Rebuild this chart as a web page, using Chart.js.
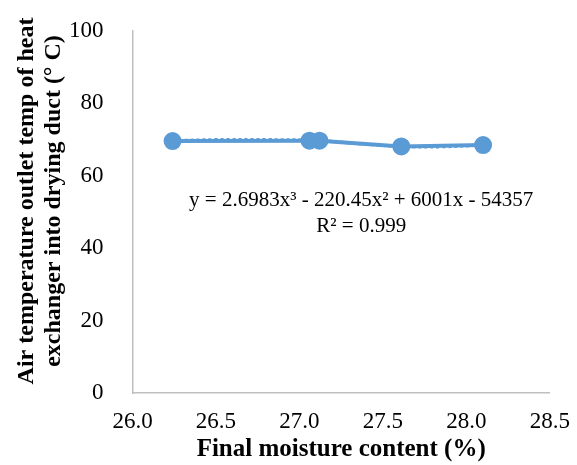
<!DOCTYPE html>
<html>
<head>
<meta charset="utf-8">
<script src="https://cdn.jsdelivr.net/npm/chart.js@4.4.1/dist/chart.umd.min.js"></script>
<style>
  html, body { margin: 0; padding: 0; background: #fff; }
  #wrap { width: 577px; height: 465px; }
</style>
</head>
<body>
<div id="wrap"><canvas id="chart"></canvas></div>
<script>
// measured points (final moisture %, outlet temp °C)
const moisture = [26.24, 27.06, 27.12, 27.61, 28.10];
const outletTemp = [69.6, 69.7, 69.7, 68.1, 68.5];

// dotted trendline
const trendX = [26.24, 26.5, 26.8, 27.06, 27.12, 27.4, 27.61, 27.85, 28.10];
const trendY = [69.7, 70.0, 70.0, 69.9, 69.8, 68.7, 68.1, 68.0, 68.5];

const xTicks = [26.0, 26.5, 27.0, 27.5, 28.0, 28.5];
const yTicks = [0, 20, 40, 60, 80, 100];

const yTitle = ['Air temperature outlet temp of heat', 'exchanger into drying duct (\u00B0 C)'];
const equation = ['y = 2.6983x\u00B3 - 220.45x\u00B2 + 6001x - 54357', 'R\u00B2 = 0.999'];

const blue = '#5B9BD5';
const serif = "'Liberation Serif', 'Times New Roman', serif";

// equation text + the two-line y title (drawn by hand to sit like the original)
const extraText = {
    id: 'extraText',
    afterDatasetsDraw(chart) {
        const { ctx, scales } = chart;
        const x = scales.x.getPixelForValue(27.37);
        const y = scales.y.getPixelForValue(53.2);
        ctx.save();
        ctx.fillStyle = '#000';
        ctx.font = '21px ' + serif;
        ctx.textAlign = 'center';
        ctx.textBaseline = 'middle';
        ctx.fillText(equation[0], x, y);
        ctx.fillText(equation[1], x, y + 26);

        ctx.translate(0, 201);
        ctx.rotate(-Math.PI / 2);
        ctx.font = 'bold 24px ' + serif;
        ctx.fillText(yTitle[0], 0, 27);
        ctx.fillText(yTitle[1], 0, 54);
        ctx.restore();
    }
};

new Chart(document.getElementById('chart'), {
    type: 'scatter',
    data: {
        datasets: [{
            label: 'Trend',
            data: trendX.map((x, i) => ({ x: x, y: trendY[i] })),
            showLine: true,
            borderColor: blue,
            borderWidth: 3,
            borderDash: [3, 3],
            pointRadius: 0,
            tension: 0.4
        }, {
            label: 'Outlet temp',
            data: moisture.map((x, i) => ({ x: x, y: outletTemp[i] })),
            showLine: true,
            borderColor: blue,
            backgroundColor: blue,
            borderWidth: 4,
            pointRadius: 7,
            pointHoverRadius: 7
        }]
    },
    options: {
        responsive: true,
        maintainAspectRatio: false,
        animation: false,
        layout: { padding: { top: 31, right: 25, left: 0, bottom: 0 } },
        plugins: {
            legend: { display: false },
            tooltip: { enabled: false }
        },
        scales: {
            x: {
                type: 'linear',
                min: 26,
                max: 28.5,
                afterBuildTicks: axis => { axis.ticks = xTicks.map(v => ({ value: v })); },
                afterFit: axis => { axis.height = 72; },
                grid: { display: false },
                border: { display: true, color: '#BFBFBF', width: 1.5 },
                ticks: {
                    color: '#000',
                    font: { family: serif, size: 23 },
                    padding: 7,
                    maxRotation: 0,
                    callback: v => v.toFixed(1)
                },
                title: {
                    display: true,
                    text: 'Final moisture content (%)',
                    color: '#000',
                    font: { family: serif, size: 25, weight: 'bold' },
                    padding: { top: 0, bottom: 0 }
                }
            },
            y: {
                min: 0,
                max: 100,
                afterBuildTicks: axis => { axis.ticks = yTicks.map(v => ({ value: v })); },
                afterFit: axis => {
                    axis.width = 132.5;
                    axis.paddingTop = 0;
                    axis.paddingBottom = 0;
                },
                grid: { display: false },
                border: { display: true, color: '#BFBFBF', width: 1.5 },
                ticks: {
                    color: '#000',
                    font: { family: serif, size: 23 },
                    padding: 21
                },
                title: { display: false }
            }
        }
    },
    plugins: [extraText]
});
</script>
</body>
</html>
